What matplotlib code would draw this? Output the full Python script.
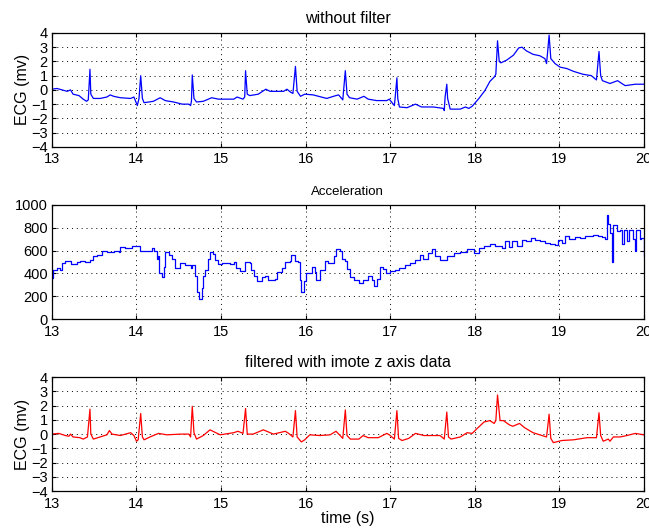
import numpy as np
import matplotlib
matplotlib.use("Agg")
import matplotlib.pyplot as plt

plt.rcParams['font.family'] = ['Liberation Sans', 'DejaVu Sans']

# ECG without filter (time s, mV)
raw_t = [13.00, 13.06, 13.12, 13.18, 13.22, 13.25, 13.32, 13.37, 13.41, 13.43, 13.45, 13.46,
         13.49, 13.57, 13.65, 13.69, 13.73, 13.81, 13.93, 13.97, 14.01, 14.03, 14.05, 14.07,
         14.09, 14.20, 14.28, 14.34, 14.44, 14.54, 14.62, 14.64, 14.65, 14.66, 14.68, 14.71,
         14.79, 14.89, 14.97, 15.15, 15.19, 15.26, 15.28, 15.29, 15.31, 15.34, 15.44, 15.53,
         15.58, 15.74, 15.78, 15.82, 15.85, 15.88, 15.90, 15.94, 15.99, 16.09, 16.25, 16.33,
         16.39, 16.44, 16.47, 16.49, 16.52, 16.61, 16.69, 16.74, 16.84, 16.96, 16.99, 17.05,
         17.06, 17.08, 17.09, 17.11, 17.20, 17.30, 17.37, 17.51, 17.63, 17.64, 17.65, 17.67,
         17.68, 17.71, 17.83, 17.89, 17.93, 17.97, 18.05, 18.12, 18.18, 18.23, 18.25, 18.27,
         18.29, 18.31, 18.38, 18.46, 18.52, 18.56, 18.61, 18.69, 18.77, 18.83, 18.85, 18.88,
         18.90, 18.95, 19.01, 19.09, 19.17, 19.28, 19.38, 19.44, 19.47, 19.49, 19.51, 19.60,
         19.69, 19.74, 19.78, 19.90, 20.00]
raw_v = [0.05, 0.1, 0.0, -0.1, 0.0, -0.3, -0.4, -0.65, -0.8, -0.7, 1.45, -0.3,
         -0.6, -0.6, -0.5, -0.35, -0.45, -0.55, -0.6, -0.5, -1.1, -0.6, 1.0, -0.6,
         -0.9, -0.8, -0.55, -0.75, -0.85, -1.0, -1.0, -1.1, -0.8, 1.05, -0.6, -0.85,
         -0.8, -0.55, -0.65, -0.65, -0.5, -0.65, -0.5, 1.35, -0.3, -0.4, -0.3, 0.05,
         -0.1, -0.1, 0.05, -0.15, -0.25, 1.65, -0.1, -0.45, -0.3, -0.35, -0.6, -0.45,
         -0.35, -0.7, 1.35, -0.3, -0.55, -0.65, -0.45, -0.65, -0.75, -0.75, -0.65, -1.1,
         -0.5, 0.85, -0.6, -1.2, -1.25, -1.0, -1.2, -1.2, -1.3, -1.45, -0.5, 0.4,
         -0.6, -1.35, -1.35, -1.2, -1.3, -1.15, -0.6, -0.05, 0.6, 0.9, 1.1, 3.45,
         2.0, 1.9, 2.1, 2.45, 2.95, 3.0, 2.75, 2.5, 2.4, 2.2, 1.85, 3.85,
         2.2, 1.85, 1.6, 1.5, 1.3, 1.1, 1.0, 0.7, 2.7, 1.0, 0.65, 0.45,
         0.65, 0.45, 0.3, 0.4, 0.4]

# acceleration (step trace)
acc_t = [13.00, 13.01, 13.06, 13.10, 13.12, 13.16, 13.22, 13.30, 13.33, 13.39, 13.45, 13.49,
         13.53, 13.59, 13.65, 13.73, 13.79, 13.81, 13.87, 13.95, 14.00, 14.04, 14.12, 14.18,
         14.21, 14.24, 14.26, 14.27, 14.30, 14.32, 14.34, 14.38, 14.42, 14.46, 14.52, 14.57,
         14.64, 14.66, 14.69, 14.71, 14.74, 14.77, 14.79, 14.81, 14.85, 14.87, 14.91, 14.93,
         14.97, 15.01, 15.11, 15.15, 15.18, 15.22, 15.28, 15.34, 15.36, 15.39, 15.42, 15.48,
         15.52, 15.56, 15.64, 15.66, 15.72, 15.76, 15.81, 15.83, 15.87, 15.91, 15.93, 15.95,
         15.98, 16.01, 16.07, 16.11, 16.12, 16.17, 16.23, 16.27, 16.31, 16.34, 16.36, 16.41,
         16.43, 16.47, 16.49, 16.53, 16.57, 16.63, 16.68, 16.74, 16.78, 16.81, 16.84, 16.88,
         16.92, 16.95, 17.00, 17.06, 17.10, 17.18, 17.23, 17.29, 17.35, 17.39, 17.45, 17.49,
         17.53, 17.59, 17.67, 17.75, 17.83, 17.91, 17.99, 18.05, 18.11, 18.18, 18.24, 18.30,
         18.32, 18.36, 18.40, 18.44, 18.50, 18.56, 18.61, 18.66, 18.71, 18.77, 18.83, 18.89,
         18.95, 18.99, 19.03, 19.07, 19.11, 19.19, 19.24, 19.30, 19.40, 19.46, 19.50, 19.54,
         19.56, 19.58, 19.60, 19.62, 19.64, 19.68, 19.72, 19.74, 19.76, 19.80, 19.83, 19.87,
         19.89, 19.91, 19.95, 19.97, 20.00]
acc_v = [360, 430, 450, 430, 490, 510, 480, 500, 510, 500, 520, 550,
         560, 600, 590, 600, 590, 630, 620, 640, 640, 600, 600, 620,
         600, 530, 550, 400, 370, 460, 590, 560, 530, 450, 490, 470,
         450, 470, 380, 240, 180, 270, 380, 430, 530, 590, 570, 520,
         480, 490, 480, 500, 450, 420, 500, 490, 430, 380, 330, 370,
         380, 340, 350, 410, 450, 500, 510, 560, 510, 500, 340, 240,
         330, 400, 460, 410, 340, 430, 510, 490, 490, 550, 610, 600,
         530, 510, 440, 370, 340, 320, 340, 380, 340, 290, 350, 460,
         440, 400, 420, 430, 450, 470, 490, 520, 560, 530, 580, 610,
         550, 520, 550, 580, 590, 610, 580, 620, 640, 660, 640, 640,
         620, 680, 630, 680, 640, 690, 680, 710, 690, 680, 670, 660,
         650, 690, 670, 730, 700, 720, 710, 730, 740, 730, 720, 700,
         910, 830, 750, 500, 820, 770, 780, 660, 780, 680, 780, 700,
         600, 780, 700, 710, 550]

# ECG filtered with imote z axis data
filt_t = [13.00, 13.08, 13.16, 13.20, 13.22, 13.25, 13.33, 13.37, 13.42, 13.45, 13.46, 13.49,
          13.57, 13.65, 13.68, 13.71, 13.81, 13.93, 13.97, 14.00, 14.02, 14.05, 14.07, 14.09,
          14.16, 14.26, 14.36, 14.52, 14.62, 14.64, 14.66, 14.68, 14.71, 14.79, 14.87, 14.99,
          15.15, 15.20, 15.26, 15.29, 15.31, 15.38, 15.50, 15.62, 15.76, 15.80, 15.85, 15.88,
          15.90, 15.95, 15.99, 16.05, 16.17, 16.29, 16.36, 16.44, 16.47, 16.49, 16.53, 16.63,
          16.68, 16.74, 16.86, 16.96, 16.99, 17.05, 17.08, 17.10, 17.14, 17.22, 17.30, 17.40,
          17.59, 17.64, 17.67, 17.69, 17.72, 17.83, 17.91, 17.97, 18.03, 18.11, 18.18, 18.23,
          18.25, 18.27, 18.30, 18.34, 18.41, 18.45, 18.53, 18.59, 18.69, 18.77, 18.85, 18.88,
          18.90, 18.93, 19.03, 19.17, 19.33, 19.44, 19.47, 19.49, 19.52, 19.58, 19.60, 19.64,
          19.72, 19.80, 19.90, 20.00]
filt_v = [0.0, 0.05, -0.1, -0.15, 0.0, -0.2, -0.25, -0.35, -0.2, 1.75, 0.0, -0.35,
          -0.2, -0.05, 0.25, 0.0, -0.1, 0.1, -0.1, -0.5, -0.4, 1.45, -0.2, -0.4,
          -0.2, 0.05, -0.05, 0.0, 0.0, -0.2, 1.95, 0.1, -0.35, -0.1, 0.3, -0.05,
          0.1, 0.2, 0.05, 1.8, 0.0, 0.0, 0.3, 0.0, 0.2, 0.05, -0.2, 1.65,
          -0.2, -0.55, -0.4, -0.05, -0.1, -0.05, 0.2, -0.3, 1.7, -0.1, -0.35, -0.35,
          -0.1, -0.25, -0.25, 0.05, -0.05, -0.35, 1.65, -0.3, -0.45, -0.3, 0.05, -0.1,
          -0.1, -0.35, 1.55, -0.2, -0.35, -0.2, 0.1, 0.05, 0.4, 0.85, 0.95, 0.75,
          0.95, 2.75, 0.95, 0.95, 0.65, 0.55, 0.75, 0.45, 0.1, -0.05, -0.2, 1.4,
          -0.3, -0.6, -0.45, -0.4, -0.25, -0.25, 1.5, -0.1, -0.5, -0.35, -0.5, -0.2,
          -0.2, -0.1, 0.05, -0.05]

fig = plt.figure(figsize=(6.49, 5.32), dpi=100)
ax1 = fig.add_axes([0.080, 0.724, 0.912, 0.214])
ax2 = fig.add_axes([0.080, 0.400, 0.912, 0.215])
ax3 = fig.add_axes([0.080, 0.077, 0.912, 0.214])

ax1.plot(raw_t, raw_v, color='#0000ff', lw=0.9)
ax2.step(acc_t, acc_v, where='post', color='#0000ff', lw=0.9)
ax3.plot(filt_t, filt_v, color='#ff0000', lw=0.9)

for ax in (ax1, ax2, ax3):
    ax.set_xlim(13, 20)
    ax.set_xticks(range(13, 21))
    ax.grid(True, linestyle=(0, (1, 4)), color='black', lw=0.7)
    ax.tick_params(direction='in', top=True, right=True, labelsize=10.5, length=3)
    ax.tick_params(axis='x', pad=4)
    ax.tick_params(axis='y', pad=3)
    for s in ax.spines.values():
        s.set_linewidth(0.9)

for ax in (ax1, ax3):
    ax.set_ylim(-4, 4)
    ax.set_yticks(range(-4, 5))
    ax.set_ylabel('ECG (mv)', fontsize=11.5, labelpad=1)

ax2.set_ylim(0, 1000)
ax2.set_yticks(range(0, 1001, 200))

ax1.set_title('without filter', fontsize=11.5, pad=7)
ax2.set_title('Acceleration', fontsize=9.5, pad=7)
ax3.set_title('filtered with imote z axis data', fontsize=11.5, pad=7)
ax3.set_xlabel('time (s)', fontsize=11.5, labelpad=0)

fig.savefig('out.png', dpi=100)
